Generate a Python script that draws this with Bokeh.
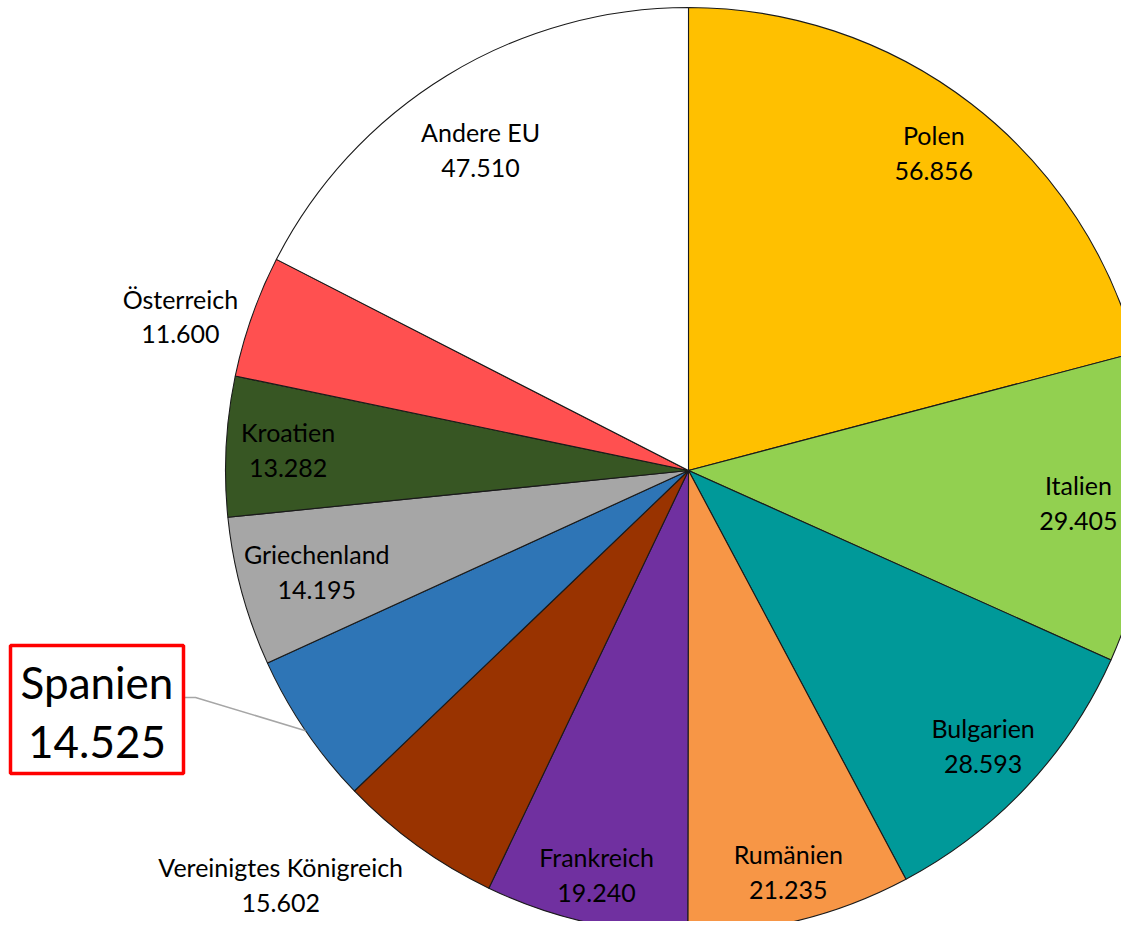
import math
from bokeh.plotting import figure
from bokeh.models import Range1d, ColumnDataSource
from bokeh.core.properties import value
from bokeh.embed import file_html
from bokeh.resources import INLINE

# ---- data ----
countries = ["Polen", "Italien", "Bulgarien", "Rumänien", "Frankreich",
             "Vereinigtes Königreich", "Spanien", "Griechenland", "Kroatien",
             "Österreich", "Andere EU"]
values = [56.856, 29.405, 28.593, 21.235, 19.240, 15.602, 14.525, 14.195,
          13.282, 11.600, 47.510]
colors = ["#FFC000", "#92D050", "#009999", "#F79646", "#7030A0", "#993300",
          "#2E75B6", "#A6A6A6", "#375623", "#FF5050", "#FFFFFF"]

# ---- layout (screen pixel coordinates, y negative downwards) ----
W, H = 1121, 921
CX, CY, R = 688, -470, 463
# label radius factor and angular shift (deg) per slice
label_r = [0.868, 0.845, 0.871, 0.893, 0.895, 1.255, None, 0.832, 0.866, 1.147, 0.826]
label_shift = [0, 0, 0, 0, 0, 8.7, 0, 0, 0, -2.55, -1.5]
FONT = "Lato"

total = sum(values)
starts, ends, mids = [], [], []
acc = 0.0
for v in values:
    a0 = acc / total * 360.0
    acc += v
    a1 = acc / total * 360.0
    starts.append(a0)
    ends.append(a1)
    mids.append((a0 + a1) / 2)

# convert clockwise-from-12 to bokeh radians (ccw from +x)
src = ColumnDataSource(dict(
    start=[math.radians(90 - e) for e in ends],
    end=[math.radians(90 - s) for s in starts],
    color=colors,
    name=countries,
))

p = figure(width=W, height=H, output_backend="svg", toolbar_location=None,
           x_range=Range1d(0, W), y_range=Range1d(-H, 0),
           x_axis_location=None, y_axis_location=None, min_border=0,
           outline_line_color=None, background_fill_color="white",
           border_fill_color="white")
p.grid.visible = False

p.wedge(x=CX, y=CY, radius=R, radius_units="data", start_angle="start",
        end_angle="end", fill_color="color", line_color="#1a1a1a",
        line_width=1.1, source=src)

# labels
lx, ly, lt = [], [], []
for i, (c, v) in enumerate(zip(countries, values)):
    if label_r[i] is None:
        continue
    ang = math.radians(mids[i] + label_shift[i])
    d = label_r[i] * R
    lx.append(CX + d * math.sin(ang))
    ly.append(CY + d * math.cos(ang))
    lt.append(f"{c}\n{v:.3f}")
p.text(x=lx, y=ly, text=lt, text_align="center", text_baseline="middle",
       text_font=value(FONT), text_font_size="25px", text_color="black",
       text_line_height=1.16)

# highlighted Spanien label with leader line
si = countries.index("Spanien")
sa = math.radians(mids[si])
ex, ey = CX + R * math.sin(sa), CY + R * math.cos(sa)
elbow_x, elbow_y = CX - 493, CY - 227
box_x, box_y, box_w, box_h = CX - 591.5, CY - 239, 173, 128
p.line(x=[box_x + box_w / 2, elbow_x, ex], y=[elbow_y, elbow_y, ey],
       line_color="#A6A6A6", line_width=1.5)
p.rect(x=[box_x], y=[box_y], width=box_w, height=box_h, fill_color="white",
       line_color="#FF0000", line_width=3.5)
p.text(x=[box_x], y=[box_y - 2], text=[f"{countries[si]}\n{values[si]:.3f}"],
       text_align="center", text_baseline="middle", text_font=value(FONT),
       text_font_size="44px", text_color="black", text_line_height=1.13)

open("out.html", "w").write(file_html(p, INLINE))
